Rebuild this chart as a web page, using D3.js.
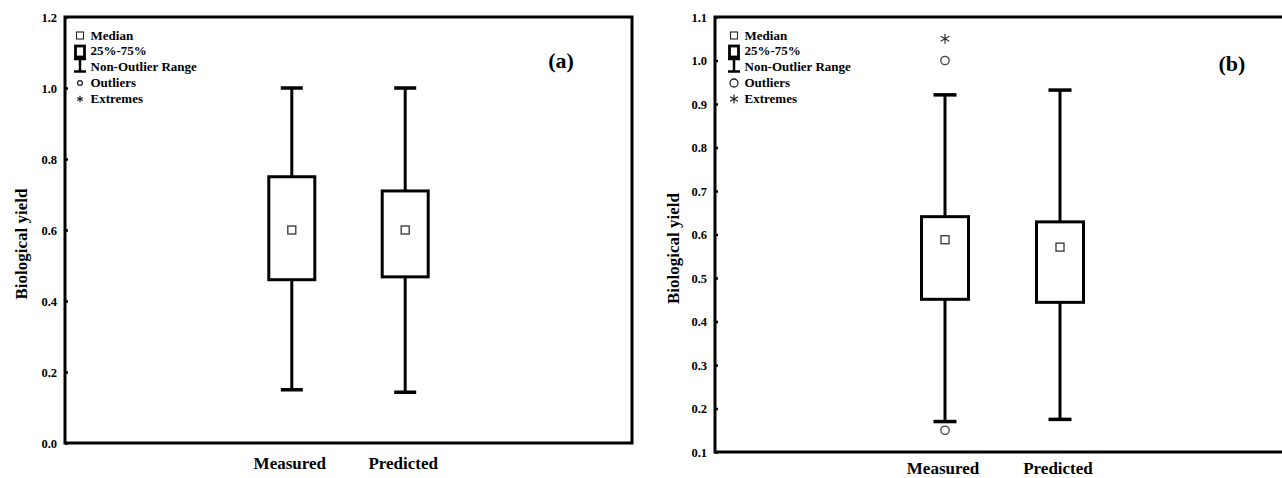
<!DOCTYPE html>
<html>
<head>
<meta charset="utf-8">
<script src="https://cdn.jsdelivr.net/npm/d3@7"></script>
<style>
  body { margin: 0; background: #fff; }
  svg { display: block; font-family: "Liberation Serif", "Times New Roman", serif; font-weight: bold; }
  .tick text { font-size: 12.5px; font-family: "Liberation Serif", serif; font-weight: bold; }
</style>
</head>
<body>
<div id="chart"></div>
<script>
// categories on the x axis
const categories = ["Measured", "Predicted"];

// panel (a) box statistics
const aLow = [0.15, 0.143];
const aQ1 = [0.46, 0.468];
const aMedian = [0.6, 0.6];
const aQ3 = [0.75, 0.71];
const aHigh = [1.0, 1.0];
const aOutliers = [];
const aExtremes = [];
const aTicks = [0.0, 0.2, 0.4, 0.6, 0.8, 1.0, 1.2];

// panel (b) box statistics
const bLow = [0.17, 0.175];
const bQ1 = [0.451, 0.444];
const bMedian = [0.588, 0.571];
const bQ3 = [0.641, 0.629];
const bHigh = [0.921, 0.932];
const bOutliers = [["Measured", 1.0], ["Measured", 0.15]];
const bExtremes = [["Measured", 1.05]];
const bTicks = [0.1, 0.2, 0.3, 0.4, 0.5, 0.6, 0.7, 0.8, 0.9, 1.0, 1.1];

const legendItems = ["Median", "25%-75%", "Non-Outlier Range", "Outliers", "Extremes"];

const svg = d3.select("#chart").append("svg")
    .attr("width", 1282)
    .attr("height", 478);

const panels = [
  { tag: "(a)", left: 65, right: 632, top: 17, bottom: 443, domain: [0, 1.2], ticks: aTicks,
    low: aLow, q1: aQ1, med: aMedian, q3: aQ3, high: aHigh, outliers: aOutliers, extremes: aExtremes,
    boxW: 46, capW: 22, labelY: 469, tagX: 561, tagY: 68, titleX: 21, legX: 80, legR: 2.4, astR: 3.2 },
  { tag: "(b)", left: 715, right: 1290, top: 17, bottom: 452, domain: [0.1, 1.1], ticks: bTicks,
    low: bLow, q1: bQ1, med: bMedian, q3: bQ3, high: bHigh, outliers: bOutliers, extremes: bExtremes,
    boxW: 47, capW: 23, labelY: 474, tagX: 1232, tagY: 71, titleX: 673, legX: 734, legR: 4, astR: 4.5 }
];

panels.forEach(p => {
  const g = svg.append("g");

  const x = d3.scalePoint()
      .domain(categories)
      .range([p.left, p.right])
      .padding(2);
  const y = d3.scaleLinear()
      .domain(p.domain)
      .range([p.bottom, p.top]);

  // frame
  g.append("rect")
      .attr("x", p.left)
      .attr("y", p.top)
      .attr("width", p.right - p.left)
      .attr("height", p.bottom - p.top)
      .attr("fill", "none")
      .attr("stroke", "#000")
      .attr("stroke-width", 3);

  // y axis, small ticks pointing inside
  const yAxis = d3.axisLeft(y)
      .tickValues(p.ticks)
      .tickFormat(d3.format(".1f"))
      .tickSize(-3)
      .tickPadding(8);
  const ag = g.append("g")
      .attr("transform", "translate(" + p.left + ",0)")
      .call(yAxis);
  ag.select(".domain").remove();
  ag.selectAll(".tick line").attr("stroke-width", 2.5);

  // y axis title
  g.append("text")
      .attr("transform", "translate(" + p.titleX + "," + ((p.top + p.bottom) / 2 + 14) + ") rotate(-90)")
      .attr("text-anchor", "middle")
      .attr("dy", "0.35em")
      .style("font-size", "17px")
      .text("Biological yield");

  // x category labels
  g.selectAll(".xlab")
      .data(categories)
      .enter().append("text")
      .attr("x", d => x(d) - 2)
      .attr("y", p.labelY)
      .attr("text-anchor", "middle")
      .style("font-size", "17px")
      .text(d => d);

  // panel tag
  g.append("text")
      .attr("x", p.tagX)
      .attr("y", p.tagY)
      .attr("text-anchor", "middle")
      .style("font-size", "22px")
      .text(p.tag);

  // whiskers
  categories.forEach((c, i) => {
    const cx = x(c);
    g.append("line")
        .attr("x1", cx).attr("x2", cx)
        .attr("y1", y(p.high[i])).attr("y2", y(p.low[i]))
        .attr("stroke", "#000").attr("stroke-width", 3);
    [p.high[i], p.low[i]].forEach(v => {
      g.append("line")
          .attr("x1", cx - p.capW / 2).attr("x2", cx + p.capW / 2)
          .attr("y1", y(v)).attr("y2", y(v))
          .attr("stroke", "#000").attr("stroke-width", 3.5);
    });
    // box
    g.append("rect")
        .attr("x", cx - p.boxW / 2)
        .attr("y", y(p.q3[i]))
        .attr("width", p.boxW)
        .attr("height", y(p.q1[i]) - y(p.q3[i]))
        .attr("fill", "#fff")
        .attr("stroke", "#000")
        .attr("stroke-width", 3);
    // median marker
    g.append("rect")
        .attr("x", cx - 4)
        .attr("y", y(p.med[i]) - 4)
        .attr("width", 8)
        .attr("height", 8)
        .attr("fill", "#fff")
        .attr("stroke", "#333")
        .attr("stroke-width", 1.3);
  });

  // outliers
  g.selectAll(".outlier")
      .data(p.outliers)
      .enter().append("circle")
      .attr("cx", d => x(d[0]))
      .attr("cy", d => y(d[1]))
      .attr("r", 4.2)
      .attr("fill", "none")
      .attr("stroke", "#444")
      .attr("stroke-width", 1.3);

  // extremes (asterisk)
  const star = r => {
    let s = "";
    for (let k = 0; k < 3; k++) {
      const a = Math.PI / 2 + k * Math.PI / 3;
      s += "M" + (r * Math.cos(a)) + "," + (r * Math.sin(a)) + "L" + (-r * Math.cos(a)) + "," + (-r * Math.sin(a));
    }
    return s;
  };
  g.selectAll(".extreme")
      .data(p.extremes)
      .enter().append("path")
      .attr("transform", d => "translate(" + x(d[0]) + "," + y(d[1]) + ")")
      .attr("d", star(5))
      .attr("stroke", "#333")
      .attr("stroke-width", 1.2);

  // legend
  const lx = p.legX;
  const base = 39.5;
  const step = 15.8;
  const leg = g.append("g");
  leg.selectAll("text")
      .data(legendItems)
      .enter().append("text")
      .attr("x", lx + 10.5)
      .attr("y", (d, i) => base + i * step)
      .style("font-size", "13px")
      .text(d => d);
  leg.append("rect")
      .attr("x", lx - 3.5).attr("y", 32)
      .attr("width", 7).attr("height", 7)
      .attr("fill", "#fff").attr("stroke", "#222").attr("stroke-width", 1.1);
  leg.append("rect")
      .attr("x", lx - 4.5).attr("y", 46)
      .attr("width", 9).attr("height", 11)
      .attr("fill", "#fff").attr("stroke", "#000").attr("stroke-width", 2.8);
  leg.append("line")
      .attr("x1", lx).attr("x2", lx).attr("y1", 58).attr("y2", 72)
      .attr("stroke", "#000").attr("stroke-width", 2.5);
  [59, 71.5].forEach(v => {
    leg.append("line")
        .attr("x1", lx - 6).attr("x2", lx + 6).attr("y1", v).attr("y2", v)
        .attr("stroke", "#000").attr("stroke-width", 2.5);
  });
  leg.append("circle")
      .attr("cx", lx).attr("cy", 83).attr("r", p.legR)
      .attr("fill", "none").attr("stroke", "#222").attr("stroke-width", 1.3);
  leg.append("path")
      .attr("transform", "translate(" + lx + ",99)")
      .attr("d", star(p.astR))
      .attr("stroke", "#222").attr("stroke-width", 1.2);
});
</script>
</body>
</html>
